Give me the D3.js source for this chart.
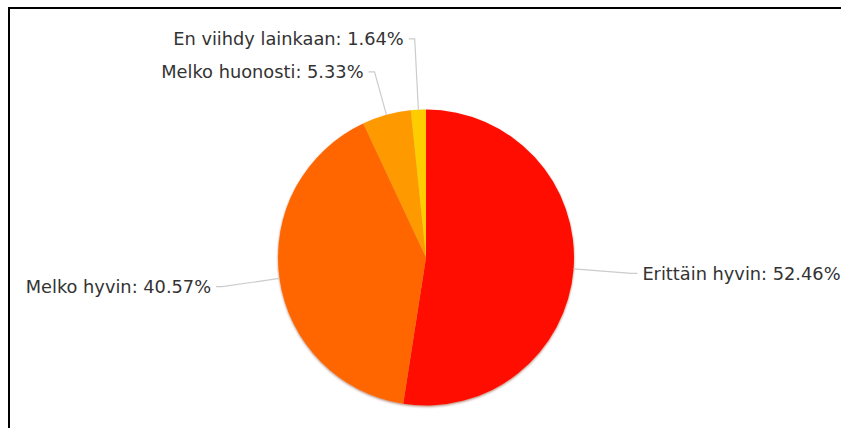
<!DOCTYPE html>
<html>
<head>
<meta charset="utf-8">
<script src="https://cdn.jsdelivr.net/npm/d3@7"></script>
<style>
  html, body { margin: 0; padding: 0; background: #fff; }
  svg { display: block; }
  text { font-family: "DejaVu Sans", sans-serif; }
</style>
</head>
<body>
<svg id="chart" width="841" height="428"></svg>
<script>
const categories = ["Erittäin hyvin", "Melko hyvin", "Melko huonosti", "En viihdy lainkaan"];
const values = [52.46, 40.57, 5.33, 1.64];
const colors = ["#ff1100", "#ff6600", "#ff9900", "#ffcc00"];

const W = 841, H = 428;
const cx = 426, cy = 257.5, R = 148;
const radialExt = 58, elbowLen = 6, textGap = 5, labelSpacing = 33;

const svg = d3.select("#chart");

// frame
svg.append("rect")
  .attr("x", 9).attr("y", 8)
  .attr("width", 900).attr("height", 500)
  .attr("fill", "none").attr("stroke", "#000").attr("stroke-width", 2);

const defs = svg.append("defs");
const f = defs.append("filter").attr("id", "shadow")
  .attr("x", "-10%").attr("y", "-10%").attr("width", "120%").attr("height", "120%");
f.append("feDropShadow").attr("dx", 0).attr("dy", 1.2).attr("stdDeviation", 1)
  .attr("flood-color", "#7a1a00").attr("flood-opacity", 0.55);

const data = categories.map((c, i) => ({ name: c, value: values[i], color: colors[i] }));
const pie = d3.pie().value(d => d.value).sort(null);
const arcs = pie(data);
const arc = d3.arc().innerRadius(0).outerRadius(R);

const g = svg.append("g").attr("transform", `translate(${cx},${cy})`);
g.append("g").attr("filter", "url(#shadow)")
  .selectAll("path").data(arcs).join("path")
  .attr("d", arc)
  .attr("fill", d => d.data.color);

// label layout
const labels = arcs.map(a => {
  const mid = (a.startAngle + a.endAngle) / 2;
  const ux = Math.sin(mid), uy = -Math.cos(mid);
  const ey = uy * (R + radialExt);
  return { a, mid, ux, uy, side: ux >= 0 ? 1 : -1, y: ey, baseY: ey };
});

// resolve overlaps per side: cluster and spread around mean
[1, -1].forEach(side => {
  const ls = labels.filter(l => l.side === side).sort((p, q) => p.baseY - q.baseY);
  const clusters = [];
  ls.forEach(l => {
    const last = clusters[clusters.length - 1];
    if (last && l.baseY - last[last.length - 1].baseY < labelSpacing) last.push(l);
    else clusters.push([l]);
  });
  clusters.forEach(cl => {
    if (cl.length < 2) return;
    const mean = d3.mean(cl, l => l.baseY);
    cl.forEach((l, i) => { l.y = mean + (i - (cl.length - 1) / 2) * labelSpacing; });
  });
});

labels.forEach(l => {
  const sx = l.ux * R, sy = l.uy * R;
  let ex, ey;
  if (l.y === l.baseY) {
    ex = l.ux * (R + radialExt); ey = l.uy * (R + radialExt);
  } else {
    const t = (l.y - sy) / l.uy;
    ex = sx + l.ux * t; ey = l.y;
  }
  const hx = ex + l.side * elbowLen;
  g.append("polyline")
    .attr("points", [[sx, sy], [ex, ey], [hx, ey]].map(p => p.join(",")).join(" "))
    .attr("fill", "none").attr("stroke", "#cccccc").attr("stroke-width", 1.2);
  g.append("text")
    .attr("x", hx + l.side * textGap)
    .attr("y", ey)
    .attr("dy", "0.35em")
    .attr("text-anchor", l.side > 0 ? "start" : "end")
    .attr("font-size", 17.8)
    .attr("fill", "#333")
    .text(`${l.a.data.name}: ${l.a.data.value.toFixed(2)}%`);
});
</script>
</body>
</html>
